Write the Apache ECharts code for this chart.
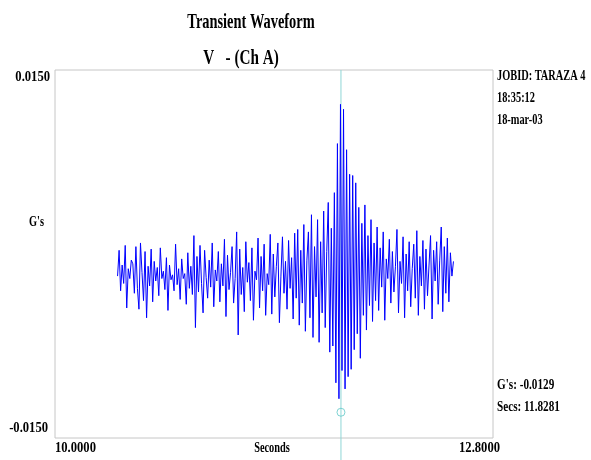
<!DOCTYPE html>
<html>
<head>
<meta charset="utf-8">
<script src="https://cdn.jsdelivr.net/npm/echarts@6/dist/echarts.min.js"></script>
<style>
html, body { margin: 0; padding: 0; background: #fff; }
#main { width: 591px; height: 460px; }
</style>
</head>
<body>
<div id="main"></div>
<script>
// sample timing of the captured waveform (seconds)
var startTime = 10.40;
var sampleStep = 0.00976;

// waveform amplitude, milli-G
var waveMilliG = [
	-1.8, 0.3, -3.0, -0.9, -2.4, 0.7, -4.4, -1.2, -2.0, -0.5,
	-0.8, -3.2, 0.6, -2.8, -4.5, 0.9, -1.5, -3.8, 0.2, -5.2,
	-1.0, -2.6, 0.4, -3.9, -0.6, -2.2, -1.1, -3.4, 0.5, -2.0,
	-1.4, -2.9, -0.3, -4.6, -0.9, -2.1, -1.7, -3.0, 0.8, -2.5,
	-1.2, -3.7, -0.4, -2.0, -1.6, -4.1, 0.1, -2.8, -1.0, -3.3,
	1.5, -6.0, -0.2, -3.1, 0.7, -2.4, -4.8, 0.3, -1.9, -3.6,
	-0.5, -2.7, 0.9, -4.3, -1.3, -2.2, 0.2, -3.9, -0.8, -2.6,
	1.2, -5.1, -0.1, -2.9, -1.5, 0.6, -4.0, -2.0, 1.8, -6.6,
	0.4, -3.3, -1.1, -4.7, 1.0, -2.3, -0.7, -3.8, 0.5, -5.4,
	-1.4, -2.1, 1.3, -4.4, -0.2, -3.0, 0.8, -5.0, -1.6, -2.5,
	1.6, -4.9, 0.0, -3.5, -1.0, 0.9, -5.6, -1.8, 1.4, -3.2,
	-0.6, -4.5, 1.1, -2.8, -0.3, -5.3, 1.7, -3.6,
	2.0, -5.8, 0.3, -4.0, 2.4, -6.3, -0.5, 1.8, -5.2, 3.2,
	-6.8, 0.6, -3.5, 2.8, -7.2, 1.0, -4.8, 3.5, -6.0, 0.2,
	4.2, -8.0, 2.1, -7.5, 5.0,
	-10.5, 9.0, -11.8, 12.2, -9.5, 11.8, -11.0, 8.5, -10.0, 6.5,
	-9.4, 6.4, -7.8, 5.8,
	-6.5, 3.8, -8.5, 2.5, -5.0, 4.0, -6.2, 1.5, -4.2, 2.8,
	-5.5, 0.9, -3.8, 2.2,
	-4.6, 0.5, -2.7, 1.8, -5.4, -0.4, -2.0, 1.2, -4.0, 0.2,
	-3.1, -1.0, 2.0, -4.8, -0.6, -2.4, 1.4, -5.2, 0.0, -3.0,
	1.0, -4.3, -1.2, 0.8, -3.6, 1.9, -5.0, -0.2, -2.6, 1.1,
	-4.5, 0.4, -3.4, -0.9, 1.5, -5.3, 0.3, -2.2, 1.0, -4.1,
	-0.5, 2.2, -4.7, 0.6, -3.2, 1.3, -3.9, 0.1, -1.8, -0.6
];

var xTicks = [10.0, 12.8];
var yTicks = [0.015, -0.015];
var cursorPoint = [11.8281, -0.0129];
var jobInfo = ['JOBID: TARAZA 4', '18:35:12', '18-mar-03'];

var myChart = echarts.init(document.getElementById('main'));
var font = '"Liberation Serif", "DejaVu Serif", serif';

var waveData = waveMilliG.map(function (v, i) {
	return [startTime + i * sampleStep, v / 1000];
});

var option = {
	animation: false,
	grid: {
		left: 55, right: 98, top: 70, bottom: 22,
		show: true,
		borderColor: '#c6c6c6',
		borderWidth: 1,
		backgroundColor: '#fff'
	},
	xAxis: {
		type: 'value',
		min: xTicks[0], max: xTicks[1],
		axisLine: { show: false },
		axisTick: { show: false },
		axisLabel: { show: false },
		splitLine: { show: false }
	},
	yAxis: {
		type: 'value',
		min: yTicks[1], max: yTicks[0],
		axisLine: { show: false },
		axisTick: { show: false },
		axisLabel: { show: false },
		splitLine: { show: false }
	},
	series: [
		{
			type: 'line',
			data: waveData,
			showSymbol: false,
			lineStyle: { color: '#0000ff', width: 1 },
			z: 3
		},
		{
			type: 'scatter',
			data: [cursorPoint],
			symbol: 'circle',
			symbolSize: 8,
			itemStyle: { color: 'rgba(0,0,0,0)', borderColor: '#5fc8c8', borderWidth: 1 },
			z: 4
		}
	]
};
myChart.setOption(option);

// texts and the cursor line, placed through the chart's own scales
function txt(s, x, y, size, align, sx) {
	return {
		type: 'text', x: x, y: y, scaleX: sx || 0.74,
		style: {
			text: s, fill: '#000',
			font: 'bold ' + size + 'px ' + font,
			textAlign: align || 'left',
			textVerticalAlign: 'middle'
		}
	};
}

var pTop = myChart.convertToPixel({ gridIndex: 0 }, [xTicks[0], yTicks[0]]);
var pBot = myChart.convertToPixel({ gridIndex: 0 }, [xTicks[1], yTicks[1]]);
var pCur = myChart.convertToPixel({ gridIndex: 0 }, cursorPoint);
var midX = (pTop[0] + pBot[0]) / 2;

var graphics = [
	{
		type: 'line', z: 2,
		shape: { x1: pCur[0], y1: pTop[1], x2: pCur[0], y2: 460 },
		style: { stroke: '#8fd6d6', lineWidth: 1 }
	},
	txt('Transient Waveform', 251, 23, 20, 'center', 0.72),
	txt('V   - (Ch A)', 241, 59, 20, 'center', 0.76),
	txt(yTicks[0].toFixed(4), 50, pTop[1] + 7, 14, 'right', 0.9),
	txt(yTicks[1].toFixed(4), 48, pBot[1] - 10, 14, 'right', 0.9),
	txt("G's", 44, 222, 14, 'right'),
	txt(xTicks[0].toFixed(4), pTop[0], pBot[1] + 10, 14, 'left', 0.9),
	txt(xTicks[1].toFixed(4), pBot[0] + 7, pBot[1] + 10, 14, 'right', 0.9),
	txt('Seconds', midX - 2, pBot[1] + 10, 14, 'center'),
	txt("G's: " + cursorPoint[1].toFixed(4), 497, 385, 14, 'left', 0.8),
	txt('Secs: ' + cursorPoint[0].toFixed(4), 497, 407, 14, 'left', 0.8)
];
jobInfo.forEach(function (s, i) {
	graphics.push(txt(s, 497, 76 + i * 22, 14, 'left', 0.74));
});
myChart.setOption({ graphic: graphics });

window.addEventListener('resize', function () {
	myChart.resize();
});
</script>
</body>
</html>
